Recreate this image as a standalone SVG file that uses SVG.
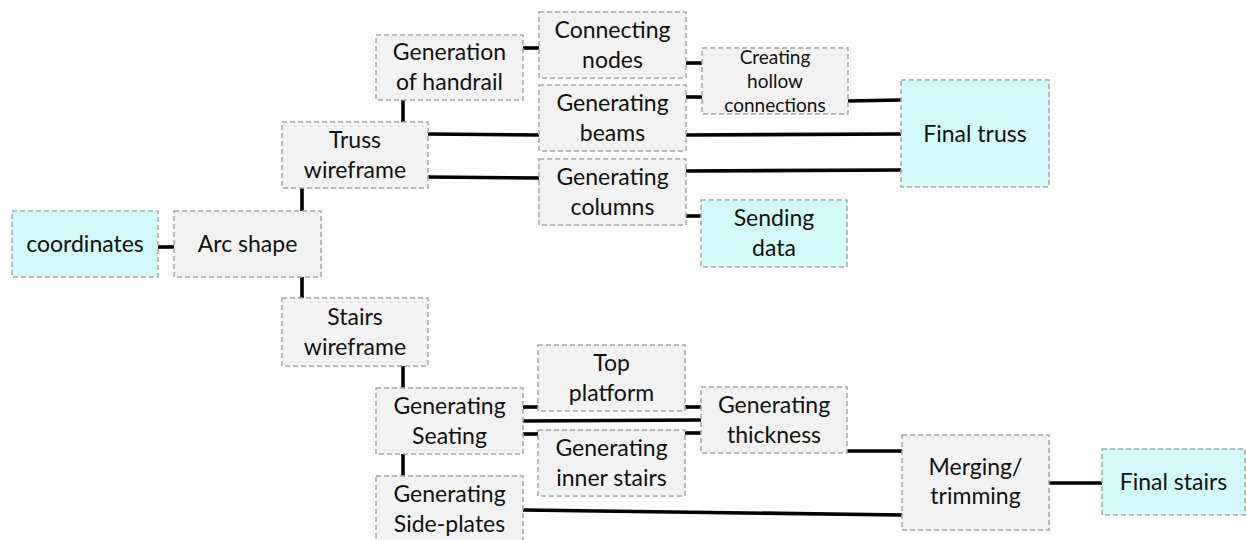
<svg xmlns="http://www.w3.org/2000/svg" width="1247" height="540" viewBox="0 0 1247 540">
  <style>
    .box { fill: #f2f2f2; stroke: #a6a6a6; stroke-width: 1.5; stroke-dasharray: 5 3; }
    .out { fill: #d2fafa; }
    .lbl { font-family: Lato, "Liberation Sans", sans-serif; font-size: 23px; fill: #111; text-anchor: middle; }
    .sm { font-size: 19px; }
    .wire line { stroke: #000; stroke-width: 3.6; stroke-linecap: butt; }
  </style>
  <rect width="1247" height="540" fill="#fff"/>

  <!-- connectors -->
  <g id="connectors" class="wire">
    <line x1="158" y1="247" x2="174" y2="247"/>
    <line x1="302" y1="211" x2="302" y2="188"/>
    <line x1="403" y1="122" x2="403" y2="100"/>
    <line x1="523" y1="48" x2="539" y2="48"/>
    <line x1="428" y1="134" x2="539" y2="135"/>
    <line x1="428" y1="177" x2="539" y2="178"/>
    <line x1="686" y1="63" x2="702" y2="63"/>
    <line x1="686" y1="97" x2="702" y2="97"/>
    <line x1="848" y1="101" x2="901" y2="100"/>
    <line x1="686" y1="135" x2="901" y2="134"/>
    <line x1="686" y1="171" x2="901" y2="170"/>
    <line x1="686" y1="216" x2="701" y2="216"/>
    <line x1="302" y1="277" x2="302" y2="298"/>
    <line x1="403" y1="366" x2="403" y2="388"/>
    <line x1="523" y1="407" x2="538" y2="407"/>
    <line x1="523" y1="421" x2="701" y2="420"/>
    <line x1="523" y1="434" x2="538" y2="434"/>
    <line x1="685" y1="407" x2="701" y2="407"/>
    <line x1="685" y1="433" x2="701" y2="433"/>
    <line x1="403" y1="454" x2="403" y2="476"/>
    <line x1="523" y1="510" x2="902" y2="515"/>
    <line x1="847" y1="451" x2="902" y2="451"/>
    <line x1="1049" y1="483" x2="1102" y2="483"/>
  </g>

  <!-- truss branch -->
  <g id="coordinates">
    <rect class="box out" x="12" y="211" width="146" height="66"/>
    <text class="lbl" x="85" y="252">coordinates</text>
  </g>
  <g id="arc-shape">
    <rect class="box" x="174" y="211" width="147" height="66"/>
    <text class="lbl" x="247.5" y="252">Arc shape</text>
  </g>
  <g id="truss-wireframe">
    <rect class="box" x="282" y="122" width="146" height="66"/>
    <text class="lbl" x="355" y="148">Truss</text>
    <text class="lbl" x="355" y="178">wireframe</text>
  </g>
  <g id="handrail">
    <rect class="box" x="376" y="35" width="147" height="65"/>
    <text class="lbl" x="449.5" y="60">Generation</text>
    <text class="lbl" x="449.5" y="90">of handrail</text>
  </g>
  <g id="connecting-nodes">
    <rect class="box" x="539" y="12" width="147" height="66"/>
    <text class="lbl" x="612.5" y="38">Connecting</text>
    <text class="lbl" x="612.5" y="68">nodes</text>
  </g>
  <g id="generating-beams">
    <rect class="box" x="539" y="85" width="147" height="66"/>
    <text class="lbl" x="612.5" y="111">Generating</text>
    <text class="lbl" x="612.5" y="141">beams</text>
  </g>
  <g id="generating-columns">
    <rect class="box" x="539" y="159" width="147" height="66"/>
    <text class="lbl" x="612.5" y="185">Generating</text>
    <text class="lbl" x="612.5" y="215">columns</text>
  </g>
  <g id="hollow-connections">
    <rect class="box" x="702" y="48" width="146" height="66"/>
    <text class="lbl sm" x="775" y="64">Creating</text>
    <text class="lbl sm" x="775" y="88">hollow</text>
    <text class="lbl sm" x="775" y="112">connections</text>
  </g>
  <g id="sending-data">
    <rect class="box out" x="701" y="200" width="146" height="67"/>
    <text class="lbl" x="774" y="226">Sending</text>
    <text class="lbl" x="774" y="256">data</text>
  </g>
  <g id="final-truss">
    <rect class="box out" x="901" y="80" width="148" height="107"/>
    <text class="lbl" x="975" y="142">Final truss</text>
  </g>

  <!-- stairs branch -->
  <g id="stairs-wireframe">
    <rect class="box" x="282" y="298" width="146" height="68"/>
    <text class="lbl" x="355" y="325">Stairs</text>
    <text class="lbl" x="355" y="355">wireframe</text>
  </g>
  <g id="generating-seating">
    <rect class="box" x="376" y="388" width="147" height="66"/>
    <text class="lbl" x="449.5" y="414">Generating</text>
    <text class="lbl" x="449.5" y="444">Seating</text>
  </g>
  <g id="top-platform">
    <rect class="box" x="538" y="345" width="147" height="66"/>
    <text class="lbl" x="611.5" y="371">Top</text>
    <text class="lbl" x="611.5" y="401">platform</text>
  </g>
  <g id="inner-stairs">
    <rect class="box" x="538" y="430" width="147" height="66"/>
    <text class="lbl" x="611.5" y="456">Generating</text>
    <text class="lbl" x="611.5" y="486">inner stairs</text>
  </g>
  <g id="side-plates">
    <rect class="box" x="376" y="476" width="147" height="68"/>
    <text class="lbl" x="449.5" y="502">Generating</text>
    <text class="lbl" x="449.5" y="532">Side-plates</text>
  </g>
  <g id="generating-thickness">
    <rect class="box" x="701" y="387" width="146" height="66"/>
    <text class="lbl" x="774" y="413">Generating</text>
    <text class="lbl" x="774" y="443">thickness</text>
  </g>
  <g id="merging-trimming">
    <rect class="box" x="902" y="435" width="147" height="95"/>
    <text class="lbl" x="975.5" y="475">Merging/</text>
    <text class="lbl" x="975.5" y="504">trimming</text>
  </g>
  <g id="final-stairs">
    <rect class="box out" x="1102" y="449" width="143" height="66"/>
    <text class="lbl" x="1173.5" y="490">Final stairs</text>
  </g>
</svg>
